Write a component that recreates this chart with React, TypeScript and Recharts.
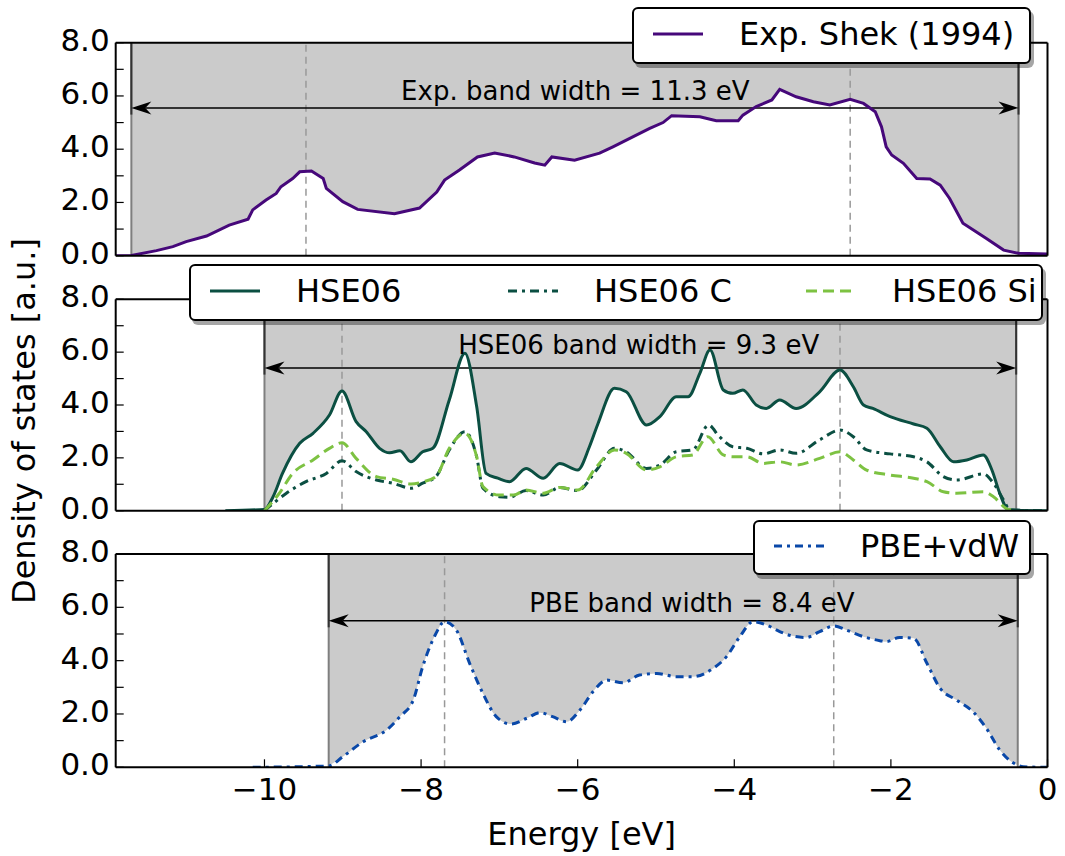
import React from "react";
import {
  ComposedChart,
  Line,
  Area,
  XAxis,
  YAxis,
  ReferenceLine,
  ReferenceDot,
  Legend,
  Label,
} from "recharts";

const FONT = "DejaVu Sans";

// axes
const energyTicks = [-10, -8, -6, -4, -2, 0];
const dosTicks = [0, 1, 2, 3, 4, 5, 6, 7, 8];
const energyDomain: [number, number] = [-11.9, 0];
const dosDomain: [number, number] = [0, 8];

// Exp. Shek (1994)
const expEnergy = [
  -11.9, -11.7, -11.38, -11.17, -11.0, -10.74, -10.45, -10.21, -10.15, -9.98,
  -9.85, -9.79, -9.64, -9.55, -9.4, -9.25, -9.21, -9.0, -8.81, -8.34, -8.02,
  -7.8, -7.7, -7.51, -7.28, -7.06, -6.81, -6.55, -6.42, -6.33, -6.04, -5.72,
  -5.55, -5.29, -5.08, -4.91, -4.8, -4.44, -4.23, -3.95, -3.89, -3.72, -3.52,
  -3.42, -3.21, -2.99, -2.78, -2.52, -2.35, -2.2, -2.12, -2.06, -1.99, -1.84,
  -1.67, -1.5, -1.37, -1.25, -1.08, -0.78, -0.56, -0.37, 0,
];
const expDos = [
  0, 0.01, 0.19, 0.34, 0.53, 0.74, 1.15, 1.37, 1.72, 2.09, 2.34, 2.59, 2.9,
  3.15, 3.18, 2.9, 2.53, 2.03, 1.74, 1.58, 1.79, 2.39, 2.84, 3.22, 3.71, 3.86,
  3.71, 3.48, 3.4, 3.71, 3.59, 3.85, 4.09, 4.47, 4.78, 5.0, 5.26, 5.22, 5.07,
  5.07, 5.28, 5.6, 5.85, 6.25, 5.97, 5.78, 5.66, 5.87, 5.72, 5.41, 4.84, 4.09,
  3.78, 3.47, 2.9, 2.88, 2.65, 2.15, 1.22, 0.65, 0.21, 0.09, 0.06,
];

// HSE06 total
const hseEnergy = [
  -10.5, -10.0, -9.89, -9.77, -9.55, -9.38, -9.17, -9.01, -8.83, -8.7, -8.53,
  -8.4, -8.27, -8.13, -7.98, -7.85, -7.64, -7.44, -7.29, -7.17, -7.02, -6.87,
  -6.66, -6.44, -6.23, -6.0, -5.85, -5.74, -5.53, -5.38, -5.12, -4.95, -4.74,
  -4.59, -4.44, -4.31, -4.14, -4.02, -3.89, -3.72, -3.59, -3.42, -3.21, -2.91,
  -2.65, -2.48, -2.35, -2.23, -2.01, -1.71, -1.54, -1.37, -1.2, -1.03, -0.82,
  -0.71, -0.61, -0.5, -0.4, 0,
];
const hseDos = [
  0, 0.05, 0.53, 1.41, 2.55, 2.93, 3.62, 4.53, 3.37, 2.99, 2.36, 2.19, 2.27,
  1.85, 2.23, 2.36, 4.19, 5.96, 3.94, 1.41, 1.23, 1.1, 1.6, 1.23, 1.79, 1.54,
  2.42, 3.3, 4.63, 4.5, 3.24, 3.56, 4.31, 4.31, 5.2, 6.08, 4.57, 4.44, 4.57,
  4.0, 3.87, 4.19, 3.87, 4.5, 5.32, 4.69, 4.0, 3.87, 3.56, 3.28, 3.12, 2.42,
  1.85, 1.92, 2.11, 1.54, 0.66, 0.03, 0.02, 0,
];

// HSE06 C
const hseCEnergy = [
  -10.0, -9.72, -9.47, -9.21, -9.01, -8.83, -8.57, -8.36, -8.13, -7.98, -7.81,
  -7.64, -7.44, -7.29, -7.21, -7.0, -6.87, -6.66, -6.44, -6.23, -6.0, -5.76,
  -5.53, -5.38, -5.12, -4.95, -4.74, -4.53, -4.33, -4.19, -4.02, -3.84, -3.63,
  -3.42, -3.21, -2.91, -2.65, -2.48, -2.31, -2.01, -1.71, -1.54, -1.33, -1.16,
  -0.82, -0.69, -0.56, -0.48, 0,
];
const hseCDos = [
  0, 0.66, 1.1, 1.41, 1.89, 1.48, 1.16, 1.04, 0.85, 1.04, 1.29, 2.3, 2.99,
  2.04, 0.85, 0.53, 0.51, 0.76, 0.59, 0.88, 0.76, 1.54, 2.36, 2.23, 1.6, 1.73,
  2.23, 2.3, 3.24, 2.8, 2.42, 2.36, 2.15, 2.3, 2.17, 2.68, 3.05, 2.8, 2.3,
  2.15, 2.04, 1.85, 1.29, 1.16, 1.39, 1.04, 0.4, 0.03, 0,
];

// HSE06 Si
const hseSiEnergy = [
  -10.0, -9.81, -9.64, -9.38, -9.17, -9.01, -8.83, -8.57, -8.36, -8.13, -7.98,
  -7.81, -7.64, -7.44, -7.29, -7.21, -7.0, -6.82, -6.66, -6.44, -6.23, -6.0,
  -5.76, -5.53, -5.38, -5.12, -4.95, -4.74, -4.53, -4.34, -4.14, -4.02, -3.84,
  -3.63, -3.42, -3.21, -2.91, -2.65, -2.48, -2.31, -2.01, -1.71, -1.54, -1.33,
  -1.16, -0.82, -0.69, -0.52, -0.46,
];
const hseSiDos = [
  0, 0.66, 1.41, 1.92, 2.36, 2.57, 1.98, 1.29, 1.19, 1.01, 1.09, 1.29, 2.36,
  2.93, 2.04, 0.91, 0.59, 0.59, 0.78, 0.66, 0.88, 0.78, 1.66, 2.3, 2.17, 1.54,
  1.66, 2.04, 2.11, 2.8, 2.11, 2.04, 2.04, 1.79, 1.85, 1.73, 1.98, 2.23, 1.92,
  1.54, 1.35, 1.23, 1.1, 0.72, 0.66, 0.72, 0.53, 0.07, 0.03,
];

// PBE+vdW
const pbeEnergy = [
  -10.15, -9.18, -9.0, -8.74, -8.44, -8.27, -8.1, -7.98, -7.83, -7.7, -7.55,
  -7.38, -7.21, -7.04, -6.85, -6.65, -6.48, -6.32, -6.14, -5.97, -5.8, -5.63,
  -5.42, -5.21, -4.99, -4.74, -4.53, -4.27, -4.1, -3.93, -3.76, -3.59, -3.42,
  -3.25, -3.08, -2.91, -2.73, -2.57, -2.35, -2.14, -2.06, -1.89, -1.71, -1.54,
  -1.37, -1.16, -0.95, -0.78, -0.61, -0.44, -0.38, -0.31, 0,
];
const pbeDos = [
  0, 0.05, 0.4, 0.96, 1.4, 1.9, 2.52, 3.77, 4.9, 5.46, 5.15, 3.9, 2.77, 1.9,
  1.62, 1.84, 2.05, 1.9, 1.71, 2.15, 2.85, 3.27, 3.17, 3.46, 3.52, 3.4, 3.4,
  3.71, 4.15, 4.9, 5.46, 5.34, 5.09, 4.92, 4.87, 5.09, 5.3, 5.15, 4.9, 4.75,
  4.71, 4.87, 4.84, 3.9, 2.96, 2.52, 2.08, 1.46, 0.65, 0.17, 0.08, 0.02, 0,
];

// band edges, peak markers, arrow heights and notes
const expBand: [number, number] = [-11.7, -0.37];
const hseBand: [number, number] = [-10.0, -0.4];
const pbeBand: [number, number] = [-9.18, -0.38];
const expMarks = [-9.47, -2.52];
const hseMarks = [-9.01, -2.65];
const pbeMarks = [-7.7, -2.73];
const arrowHeights = [5.55, 5.4, 5.5];
const notes = [
  "Exp. band width = 11.3 eV",
  "HSE06 band width = 9.3 eV",
  "PBE band width = 8.4 eV",
];
const notePos: [number, number][] = [
  [-6.03, 5.85],
  [-5.22, 5.93],
  [-4.54, 5.83],
];

type Pt = { e: number; v: number };
const toPoints = (e: number[], v: number[]): Pt[] =>
  e.map((x, i) => ({ e: x, v: v[i] }));

interface SeriesDef {
  name: string;
  data: Pt[];
  color: string;
  dash?: string;
  curve: "linear" | "monotone";
}

const expSeries: SeriesDef[] = [
  { name: "Exp. Shek (1994)", data: toPoints(expEnergy, expDos), color: "#46087a", curve: "linear" },
];
const hseSeries: SeriesDef[] = [
  { name: "HSE06", data: toPoints(hseEnergy, hseDos), color: "#0b4f42", curve: "monotone" },
  { name: "HSE06 C", data: toPoints(hseCEnergy, hseCDos), color: "#0b4f42", dash: "9 5 3 5", curve: "monotone" },
  { name: "HSE06 Si", data: toPoints(hseSiEnergy, hseSiDos), color: "#7dc242", dash: "11 6", curve: "monotone" },
];
const pbeSeries: SeriesDef[] = [
  { name: "PBE+vdW", data: toPoints(pbeEnergy, pbeDos), color: "#0a48a8", dash: "8 5 3 5", curve: "monotone" },
];

const frame = { stroke: "#000", strokeWidth: 2 };
const tickStyle = { stroke: "#000", strokeWidth: 1.2 };

const XTick = (props: any) => {
  const v = props.payload.value as number;
  const txt = v < 0 ? `\u2212${Math.abs(v)}` : `${v}`;
  return (
    <text x={props.x} y={props.y + 33} textAnchor="middle" fontSize={31} fontFamily={FONT} fill="#000">
      {txt}
    </text>
  );
};

const YTick = (props: any) => {
  const v = props.payload.value as number;
  if (v % 2 !== 0) return <g />;
  return (
    <text x={props.x} y={props.y + 8} textAnchor="end" fontSize={31} fontFamily={FONT} fill="#000">
      {v.toFixed(1)}
    </text>
  );
};

const BandArrow = (props: any) => {
  const { x1, y1, x2 } = props;
  const L = 20;
  const H = 6.5;
  const N = 14;
  return (
    <g>
      <line x1={x1 + N} y1={y1} x2={x2 - N} y2={y1} stroke="#000" strokeWidth={1.5} />
      <path d={`M${x1},${y1} L${x1 + L},${y1 - H} L${x1 + N},${y1} L${x1 + L},${y1 + H} Z`} fill="#000" />
      <path d={`M${x2},${y1} L${x2 - L},${y1 - H} L${x2 - N},${y1} L${x2 - L},${y1 + H} Z`} fill="#000" />
    </g>
  );
};

const noteShape = (text: string) => (props: any) =>
  (
    <text x={props.cx} y={props.cy} textAnchor="middle" fontSize={26} fontFamily={FONT} fill="#000">
      {text}
    </text>
  );

const XLabel = (props: any) => {
  const vb = props.viewBox;
  if (!vb) return null;
  return (
    <text x={vb.x + vb.width / 2} y={vb.y + 78} textAnchor="middle" fontSize={32} fontFamily={FONT} fill="#000">
      Energy [eV]
    </text>
  );
};

const YLabel = (props: any) => {
  const vb = props.viewBox;
  if (!vb) return null;
  const x = vb.x + vb.width - 81;
  const y = vb.y + vb.height / 2 + 16;
  return (
    <text transform={`translate(${x},${y}) rotate(-90)`} textAnchor="middle" fontSize={32} fontFamily={FONT} fill="#000">
      Density of states [a.u.]
    </text>
  );
};

function LegendBox({ items, colWidth }: { items: SeriesDef[]; colWidth: number }) {
  return (
    <div
      style={{
        boxSizing: "border-box",
        width: "100%",
        height: "100%",
        display: "flex",
        alignItems: "center",
        paddingLeft: 19,
        paddingBottom: 3,
        background: "#fff",
        border: "2px solid #000",
        borderRadius: 6,
        boxShadow: "3px 4px 0 rgba(0,0,0,0.35)",
        fontFamily: FONT,
        fontSize: 32,
        color: "#000",
      }}
    >
      {items.map((s) => (
        <div key={s.name} style={{ display: "flex", alignItems: "center", width: colWidth, flex: "none", whiteSpace: "nowrap" }}>
          <svg width={50} height={12}>
            <line x1={0} y1={6} x2={50} y2={6} stroke={s.color} strokeWidth={3} strokeDasharray={s.dash} />
          </svg>
          <span style={{ marginLeft: 36, lineHeight: 1 }}>{s.name}</span>
        </div>
      ))}
    </div>
  );
}

interface PanelProps {
  top: number;
  height: number;
  margin: { top: number; right: number; bottom: number; left: number };
  series: SeriesDef[];
  band: [number, number];
  marks: number[];
  arrowY: number;
  note: string;
  noteAt: [number, number];
  legend: { left: number; top: number; width: number; height: number; colWidth: number };
  bottom?: boolean;
  yLabel?: boolean;
}

function DosPanel(p: PanelProps) {
  const [b0, b1] = p.band;
  const main = p.series[0];
  const gap = (d: Pt) => (d.e >= b0 - 1e-9 && d.e <= b1 + 1e-9 ? [d.v, 8] : null);
  return (
    <div style={{ position: "absolute", left: 0, top: p.top }}>
      <ComposedChart width={1065} height={p.height} margin={p.margin}>
        <XAxis
          type="number"
          dataKey="e"
          domain={energyDomain}
          ticks={energyTicks}
          allowDataOverflow
          interval={0}
          height={p.bottom ? 60 : 1}
          tickSize={-8}
          tickMargin={8}
          tick={p.bottom ? XTick : false}
          axisLine={frame}
          tickLine={tickStyle}
        >
          {p.bottom && <Label content={XLabel} />}
        </XAxis>
        <XAxis
          xAxisId="top"
          orientation="top"
          type="number"
          dataKey="e"
          domain={energyDomain}
          ticks={energyTicks}
          allowDataOverflow
          interval={0}
          height={1}
          tickSize={-8}
          tick={false}
          axisLine={frame}
          tickLine={tickStyle}
        />
        <YAxis
          type="number"
          domain={dosDomain}
          ticks={dosTicks}
          allowDataOverflow
          interval={0}
          width={1}
          tickSize={-8}
          tickMargin={14}
          tick={YTick}
          axisLine={frame}
          tickLine={tickStyle}
        >
          {p.yLabel && <Label content={YLabel} />}
        </YAxis>
        <YAxis
          yAxisId="right"
          orientation="right"
          type="number"
          domain={dosDomain}
          ticks={dosTicks}
          allowDataOverflow
          interval={0}
          width={1}
          tickSize={-8}
          tick={false}
          axisLine={frame}
          tickLine={tickStyle}
        />

        <Area
          data={main.data}
          dataKey={gap}
          type={main.curve}
          stroke="none"
          fill="#cbcbcb"
          fillOpacity={1}
          legendType="none"
          isAnimationActive={false}
          activeDot={false}
          zIndex={100}
        />

        <ReferenceLine x={b0} stroke="#7f7f7f" strokeWidth={2} zIndex={300} />
        <ReferenceLine x={b1} stroke="#7f7f7f" strokeWidth={2} zIndex={300} />
        <ReferenceLine segment={[{ x: b0, y: 8 }, { x: b0, y: p.arrowY - 0.25 }]} stroke="#333" strokeWidth={2} zIndex={300} />
        <ReferenceLine segment={[{ x: b1, y: 8 }, { x: b1, y: p.arrowY - 0.25 }]} stroke="#333" strokeWidth={2} zIndex={300} />
        {p.marks.map((m) => (
          <ReferenceLine key={m} x={m} stroke="#999" strokeWidth={1.5} strokeDasharray="7 5" zIndex={300} />
        ))}
        <ReferenceLine
          segment={[{ x: b0, y: p.arrowY }, { x: b1, y: p.arrowY }]}
          shape={BandArrow}
          zIndex={300}
        />

        {p.series.map((s) => (
          <Line
            key={s.name}
            data={s.data}
            dataKey="v"
            name={s.name}
            type={s.curve}
            stroke={s.color}
            strokeWidth={3}
            strokeDasharray={s.dash}
            dot={false}
            activeDot={false}
            isAnimationActive={false}
          />
        ))}

        <ReferenceDot x={p.noteAt[0]} y={p.noteAt[1]} r={0} shape={noteShape(p.note)} zIndex={2000} />

        <Legend
          verticalAlign="middle"
          align="center"
          layout="vertical"
          wrapperStyle={{ left: p.legend.left, top: p.legend.top, width: p.legend.width, height: p.legend.height }}
          content={() => <LegendBox items={p.series} colWidth={p.legend.colWidth} />}
        />
      </ComposedChart>
    </div>
  );
}

export default function App() {
  return (
    <div style={{ position: "absolute", left: 0, top: 0, width: 1065, height: 856, background: "#fff" }}>
      <DosPanel
        top={0}
        height={278}
        margin={{ top: 41.7, right: 16.5, bottom: 21.3, left: 114.7 }}
        series={expSeries}
        band={expBand}
        marks={expMarks}
        arrowY={arrowHeights[0]}
        note={notes[0]}
        noteAt={notePos[0]}
        legend={{ left: 632, top: 7, width: 399, height: 57, colWidth: 370 }}
      />
      <DosPanel
        top={200}
        height={440}
        margin={{ top: 98.3, right: 16.5, bottom: 128.3, left: 114.7 }}
        series={hseSeries}
        band={hseBand}
        marks={hseMarks}
        arrowY={arrowHeights[1]}
        note={notes[1]}
        noteAt={notePos[1]}
        legend={{ left: 189, top: 64, width: 854, height: 57, colWidth: 298 }}
        yLabel
      />
      <DosPanel
        top={532}
        height={324}
        margin={{ top: 21, right: 16.5, bottom: 28.7, left: 114.7 }}
        series={pbeSeries}
        band={pbeBand}
        marks={pbeMarks}
        arrowY={arrowHeights[2]}
        note={notes[2]}
        noteAt={notePos[2]}
        legend={{ left: 753, top: -12, width: 278, height: 55, colWidth: 250 }}
        bottom
      />
    </div>
  );
}
